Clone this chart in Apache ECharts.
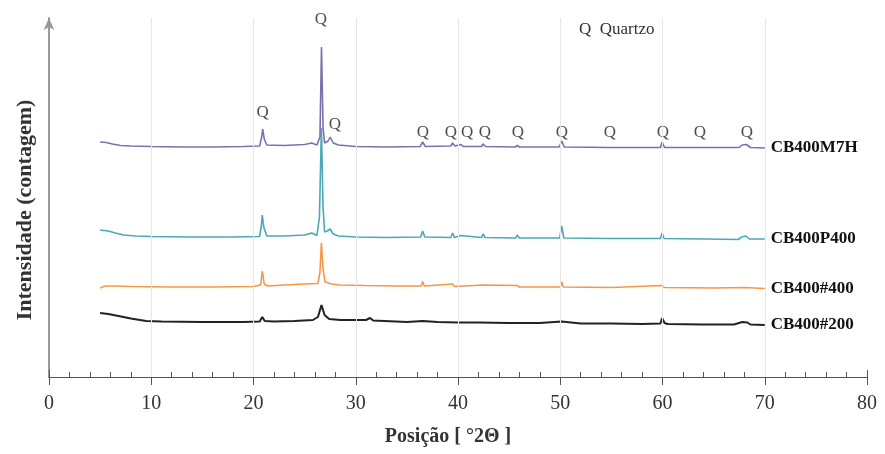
<!DOCTYPE html>
<html>
<head>
<meta charset="utf-8">
<script src="https://cdn.jsdelivr.net/npm/echarts/dist/echarts.min.js"></script>
<style>
html,body{margin:0;padding:0;background:#fff;}
#chart{width:885px;height:454px;}
</style>
</head>
<body>
<div id="chart"></div>
<script>
// difratogramas: [posição 2θ, intensidade relativa]
var m7h = [[5.0,235],[5.6,234.5],[6.2,233],[7.0,231.5],[8,231],[10,230.5],[13,230],[16,230],[19,230.5],[20.6,231],[20.8,240],[20.9,248],[21.05,238],[21.3,232],[23,231.5],[25,232.5],[25.7,234],[26.2,232],[26.5,240],[26.65,330],[26.8,250],[26.95,234],[27.3,236],[27.5,240],[27.8,234],[28.3,232],[30,230.5],[33,230],[36.3,230.5],[36.55,235],[36.8,230.5],[39.3,231],[39.47,234],[39.7,231],[40.29,232.5],[40.5,230.5],[42.3,230.5],[42.45,233],[42.7,230.5],[45.6,230],[45.8,231.5],[46,230],[49.9,230],[50.14,236],[50.4,230],[54.7,229.5],[54.87,231.5],[55.1,229.5],[59.8,229.5],[59.96,235],[60.2,229.5],[63.9,229.5],[64,230.5],[64.2,229.5],[67.5,229.5],[67.8,232],[68.2,232.5],[68.6,229.5],[70,229]];
var p400 = [[5.0,147],[5.8,146],[6.5,144],[7.3,142],[8.5,141],[10,140.5],[14,140],[18,140],[20.6,140.5],[20.75,150],[20.86,162],[21.0,150],[21.3,141],[23,141],[25,142],[25.7,144],[26.2,141.5],[26.45,160],[26.64,249],[26.8,170],[26.95,145],[27.2,146],[27.5,148],[27.8,143],[28.3,141],[30,140],[33,139.5],[36.35,140],[36.54,146],[36.75,140],[39.3,139.5],[39.47,144],[39.65,139.5],[40.29,141.5],[40.45,139.5],[42.3,139.5],[42.45,143],[42.65,139.5],[45.65,139],[45.79,142],[46,139],[49.95,139],[50.14,151],[50.35,139],[54.75,138.5],[54.87,140.5],[55,138.5],[59.8,138.5],[59.96,144],[60.15,138.5],[63.9,138],[64,139.5],[64.15,138],[67.4,137.5],[67.74,140],[68.14,141],[68.5,138],[70,138]];
var m400 = [[5.0,89],[5.5,91],[6.5,91],[8,90.5],[12,90],[16,90],[20,90.5],[20.7,92],[20.86,106],[21.05,93],[21.4,91],[23,92],[25,93],[26.3,93.5],[26.5,105],[26.64,134],[26.8,108],[27.0,95],[27.6,93],[28.5,92],[31,91.5],[34,91],[36.4,91],[36.54,95.5],[36.7,91],[39.47,93],[39.65,90.5],[42.45,92],[42.6,90.5],[45.79,91.5],[46,90],[50,90],[50.14,95],[50.3,90],[55,89.5],[59.96,91.5],[60.2,89.5],[65,89],[68,89.5],[70,88.5]];
var m200 = [[5.0,64],[5.8,63],[6.8,61],[8,58.5],[9.5,56],[11,55.5],[15,55],[19,55],[20.6,55.5],[20.86,60],[21.1,56],[22,55.5],[24,56],[25.8,57],[26.3,60],[26.65,72],[26.95,62],[27.4,58],[28.5,57],[31,57],[31.4,59],[31.7,56.5],[35,55],[36.54,56],[38,55],[40,54.5],[42,54.5],[45,54],[48,54],[50.14,55.5],[52,53.5],[55,53.5],[58,53],[59.8,53.5],[59.96,59],[60.2,54],[60.5,53],[64,52.5],[67,52.5],[67.8,55],[68.3,54.5],[68.6,52.5],[70,52]];

// picos de quartzo marcados com "Q"
var qX = [26.6, 20.9, 27.95, 36.56, 39.3, 40.9, 42.63, 45.86, 50.16, 54.86, 60.04, 63.66, 68.26];
var qY = [357, 264, 252, 244, 244, 244, 244, 244, 244, 244, 244, 244, 244];

var gridX = [10, 20, 30, 40, 50, 60, 70];

var serif = 'Liberation Serif';
var chart = echarts.init(document.getElementById('chart'));

function serie(name, data, color, width, extra) {
    var s = {
        name: name,
        type: 'line',
        data: data,
        showSymbol: false,
        symbol: 'none',
        lineStyle: {color: color, width: width},
        itemStyle: {color: color},
        endLabel: {
            show: true,
            formatter: '{a}',
            distance: 6,
            fontFamily: serif,
            fontSize: 17,
            fontWeight: 'bold',
            color: '#111'
        }
    };
    if (extra) s.markLine = extra;
    return s;
}

var qPoints = qX.map(function (x, i) { return [x, qY[i]]; });

chart.setOption({
    animation: false,
    backgroundColor: '#fff',
    grid: {left: 49, right: 18, top: 18, bottom: 77},
    xAxis: [{
        type: 'value',
        min: 0,
        max: 80,
        interval: 10,
        axisLine: {lineStyle: {color: '#555', width: 1}},
        axisTick: {inside: true, length: 7, lineStyle: {color: '#555'}},
        minorTick: {show: true, splitNumber: 5, length: 5, lineStyle: {color: '#555'}},
        axisLabel: {margin: 17, fontFamily: serif, fontSize: 20, color: '#333'},
        splitLine: {show: false}
    }, {
        type: 'value',
        position: 'bottom',
        min: 0,
        max: 80,
        interval: 10,
        axisLine: {show: false},
        axisTick: {inside: false, length: 8, lineStyle: {color: '#555'}},
        axisLabel: {show: false},
        splitLine: {show: false}
    }],
    yAxis: {
        type: 'value',
        min: 0,
        max: 359,
        axisLine: {show: true, symbol: ['none', 'arrow'], symbolSize: [8, 12], lineStyle: {color: '#999', width: 2}},
        axisTick: {show: false},
        axisLabel: {show: false},
        splitLine: {show: false}
    },
    graphic: [{
        type: 'text',
        x: 25,
        y: 210,
        rotation: Math.PI / 2,
        style: {text: 'Intensidade (contagem)', font: 'bold 22px "Liberation Serif"', fill: '#333', textAlign: 'center', textVerticalAlign: 'middle'}
    }, {
        type: 'text',
        x: 448,
        y: 437,
        style: {text: 'Posição [ °2Θ ]', font: 'bold 20px "Liberation Serif"', fill: '#333', textAlign: 'center', textVerticalAlign: 'middle'}
    }, {
        type: 'text',
        x: 579,
        y: 30,
        style: {text: 'Q  Quartzo', font: '17px "Liberation Serif"', fill: '#333', textAlign: 'left', textVerticalAlign: 'middle'}
    }],
    series: [
        serie('CB400#200', m200, '#222', 2, {
            silent: true,
            symbol: 'none',
            label: {show: false},
            lineStyle: {color: '#e6e6e6', width: 1, type: 'solid'},
            data: gridX.map(function (v) { return {xAxis: v}; })
        }),
        serie('CB400#400', m400, '#f79646', 1.6),
        serie('CB400P400', p400, '#4aa8b8', 1.6),
        serie('CB400M7H', m7h, '#7a70b0', 1.6),
        {
            name: 'Q',
            type: 'scatter',
            data: qPoints,
            symbolSize: 0,
            silent: true,
            label: {show: true, position: 'inside', formatter: 'Q', fontFamily: serif, fontSize: 17, color: '#222'}
        }
    ]
});
</script>
</body>
</html>
